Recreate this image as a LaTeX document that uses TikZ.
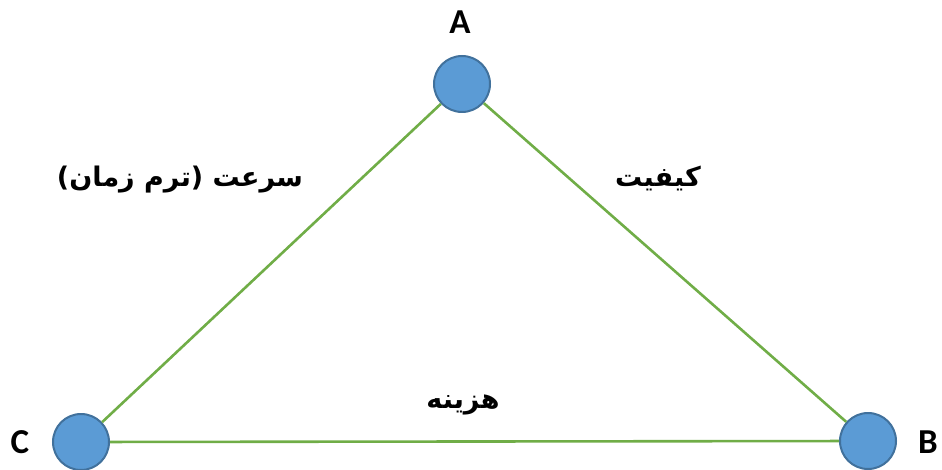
\documentclass[tikz,border=0pt]{standalone}
\usepackage{fontspec}
\setmainfont{Carlito}
\newfontfamily\arabicfont[Script=Arabic]{DejaVu Sans}
\TeXXeTstate=1
\usepackage{tikz}
\usetikzlibrary{positioning}

\begin{document}
\begin{tikzpicture}[
    x=1pt, y=-1pt,
    vertex/.style={circle, draw={rgb,255:red,65;green,113;blue,156}, fill={rgb,255:red,91;green,155;blue,213}, line width=2pt, minimum size=56pt, inner sep=0pt},
    vlabel/.style={font=\fontsize{35}{40}\selectfont\bfseries},
    side/.style={font=\arabicfont\fontsize{27}{32}\selectfont\bfseries},
    edge/.style={draw={rgb,255:red,112;green,173;blue,71}, line width=2.6pt}
]
\useasboundingbox (0,0) rectangle (942,470);
\node[vertex] (a) at (462,84) {};
\node[vertex] (b) at (868,441) {};
\node[vertex] (c) at (81,442) {};
\node[vlabel] (la) at (460,22) {A};
\node[vlabel] (lb) at (928,442) {B};
\node[vlabel] (lc) at (20,442) {C};
\node[side] (speed) at (180,180) {\beginR سرعت (ترم زمان)\endR};
\node[side] (quality) at (658,178) {\beginR کیفیت\endR};
\node[side] (cost) at (463,405) {\beginR هزینه\endR};
\draw[edge] (a) -- (c);
\draw[edge] (a) -- (b);
\draw[edge] (c) -- (b);
\end{tikzpicture}
\end{document}
